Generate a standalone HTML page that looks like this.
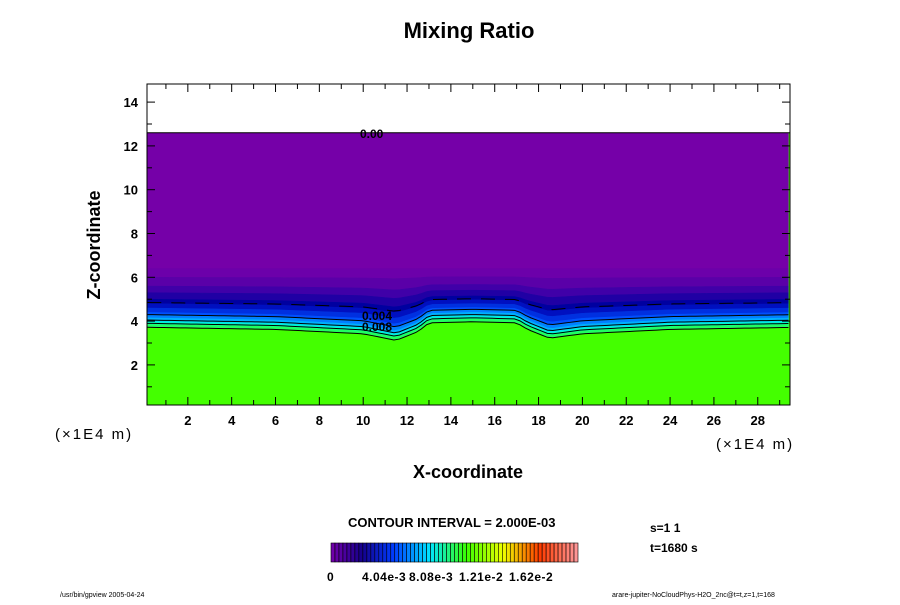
<!DOCTYPE html>
<html><head><meta charset="utf-8"><style>
body{margin:0;background:#fff;}
svg text{font-family:"Liberation Sans",sans-serif;}
</style></head><body>
<svg id="c" width="900" height="600" xmlns="http://www.w3.org/2000/svg">
<text x="469" y="38" text-anchor="middle" font-size="22" font-weight="bold">Mixing Ratio</text>
<g id="plot"></g>
<g id="axes"></g>
<text x="100" y="245" transform="rotate(-90 100 245)" text-anchor="middle" font-size="18" font-weight="bold">Z-coordinate</text>
<text x="468" y="478" text-anchor="middle" font-size="18" font-weight="bold">X-coordinate</text>
<text x="55" y="439" font-size="15" letter-spacing="2" font-family="Liberation Mono">(×1E4 m)</text>
<text x="716" y="449" font-size="15" letter-spacing="2" font-family="Liberation Mono">(×1E4 m)</text>
<text x="348" y="527" font-size="13" font-weight="bold">CONTOUR INTERVAL = 2.000E-03</text>
<text x="650" y="532" font-size="12" font-weight="bold">s=1 1</text>
<text x="650" y="552" font-size="12" font-weight="bold">t=1680 s</text>
<g id="cbar"></g>
<text x="60" y="597" font-size="7">/usr/bin/gpview 2005-04-24</text>
<text x="612" y="597" font-size="7">arare-jupiter-NoCloudPhys-H2O_2nc@t=t,z=1,t=168</text>
</svg>
<script>
const NS="http://www.w3.org/2000/svg";
const xTicks=[2,4,6,8,10,12,14,16,18,20,22,24,26,28];
const yTicks=[2,4,6,8,10,12,14];
const profX=[0,6,10,11.5,12.5,13,15,17,17.5,18.5,20,24,30];
const profD=[0,-0.1,-0.3,-0.6,-0.2,0.2,0.25,0.2,-0.1,-0.5,-0.3,-0.1,0];
const levels=[12.6,6.4,6.0,5.6,5.3,5.0,4.8,4.6,4.4,4.3,4.15,4.05,3.95,3.85,3.75];
const levelColors=["#7500a8","#6c00aa","#5a00a8","#4000a8","#2000a4","#0000a0","#0010c0","#0030e0","#0050ff","#0080ff","#00b0ff","#00e0f0","#00ffc0","#20ff60"];
const lineLevels=[4.85,4.3,4.05,3.9,3.72];
const cbarLabels=["0","4.04e-3","8.08e-3","1.21e-2","1.62e-2"];
const X0=147,X1=790,Y0=84,Y1=405;
const sx=v=>144+v*21.92, sz=v=>408.7-v*21.9;
function pert(x){for(let i=0;i<profX.length-1;i++){if(x<=profX[i+1]){const t=(x-profX[i])/(profX[i+1]-profX[i]);return profD[i]+t*(profD[i+1]-profD[i]);}}return 0;}
function w(z){return Math.max(0,Math.min(1,(6.2-z)/2.0));}
function curve(z){const p=[];for(let x=0.15;x<=29.5;x+=0.25){p.push([Math.max(X0,Math.min(X1,sx(x))),sz(z+pert(x)*w(z))]);}return p;}
function el(t,a,parent){const e=document.createElementNS(NS,t);for(const k in a)e.setAttribute(k,a[k]);parent.appendChild(e);return e;}
const plot=document.getElementById('plot');
let r=el('rect',{x:X0,y:sz(12.6),width:X1-X0,height:Y1-sz(12.6),fill:'#44ff00'},plot);


for(let i=0;i<levels.length-1;i++){
  const top=curve(levels[i]),bot=curve(levels[i+1]);
  const pts=top.concat(bot.reverse()).map(p=>p.join(',')).join(' ');
  const pg=el('polygon',{points:pts,fill:levelColors[i],stroke:levelColors[i],'stroke-width':0.5},plot);
  
  
}
lineLevels.forEach((z,i)=>{
  const pl=el('polyline',{points:curve(z).map(p=>p.join(',')).join(' '),fill:'none',stroke:'#000','stroke-width':1,'stroke-dasharray':i==0?'14,10':'none'},plot);
  
  
});
let tl=el('line',{x1:X0,x2:X1,y1:sz(12.6),y2:sz(12.6),stroke:'#000'},plot);


[["0.00",360,138],["0.004",362,320],["0.008",362,331]].forEach(a=>{
  const t=el('text',{x:a[1],y:a[2],'font-size':12,'font-weight':'bold'},plot);t.textContent=a[0];
  
  
});
const axes=document.getElementById('axes');
let fr=el('rect',{x:X0,y:Y0,width:X1-X0,height:Y1-Y0,fill:'none',stroke:'#000','stroke-width':1},axes);


for(let v=1;v<=29;v++){const L=v%2==0?8:5;
  el('line',{x1:sx(v),x2:sx(v),y1:Y1,y2:Y1-L,stroke:'#000'},axes);
  el('line',{x1:sx(v),x2:sx(v),y1:Y0,y2:Y0+L,stroke:'#000'},axes);}
for(let v=1;v<=14;v++){const L=v%2==0?8:5;
  el('line',{x1:X0,x2:X0+L,y1:sz(v),y2:sz(v),stroke:'#000'},axes);
  el('line',{x1:X1,x2:X1-L,y1:sz(v),y2:sz(v),stroke:'#000'},axes);}
xTicks.forEach(v=>{const t=el('text',{x:sx(v),y:425,'text-anchor':'middle','font-size':13,'font-weight':'bold'},axes);t.textContent=v;
  
  });
yTicks.forEach(v=>{const t=el('text',{x:138,y:sz(v)+5,'text-anchor':'end','font-size':13,'font-weight':'bold'},axes);t.textContent=v;
  
  });
const cb=document.getElementById('cbar');
const stops=[[0,[112,0,170]],[0.12,[20,0,140]],[0.25,[0,60,255]],[0.4,[0,230,255]],[0.55,[60,255,0]],[0.7,[240,255,0]],[0.85,[255,60,0]],[1,[255,150,150]]];
function col(t){for(let i=0;i<stops.length-1;i++){if(t<=stops[i+1][0]){const f=(t-stops[i][0])/(stops[i+1][0]-stops[i][0]);return 'rgb('+stops[i][1].map((c,j)=>Math.round(c+f*(stops[i+1][1][j]-c))).join(',')+')';}}return 'rgb(255,150,150)';}
const N=62,cx0=331,cx1=578,cw=(cx1-cx0)/N;
for(let i=0;i<N;i++){const s=el('rect',{x:cx0+i*cw,y:543,width:cw,height:19,fill:col(i/(N-1)),stroke:'#000','stroke-width':0.6},cb);
  
  }
const cbx=[327,362,409,459,509];
cbarLabels.forEach((s,i)=>{const t=el('text',{x:cbx[i],y:581,'font-size':12,'font-weight':'bold','letter-spacing':'0.5'},cb);t.textContent=s;
  
  });
</script>
</body></html>
